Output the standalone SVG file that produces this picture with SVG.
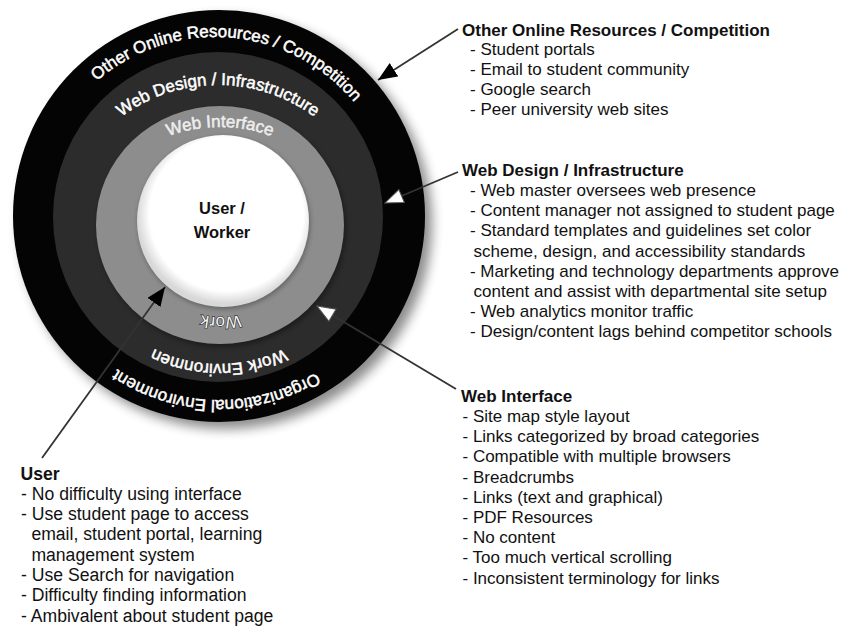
<svg xmlns="http://www.w3.org/2000/svg" width="843" height="627" viewBox="0 0 843 627">
<style>
.rl{font-family:"Liberation Sans",Arial,sans-serif;font-size:17px;fill:#ffffff;stroke:#ffffff;stroke-width:0.5}
.t{font-family:"Liberation Sans",Arial,sans-serif;font-size:17px;fill:#111111}
.u{font-size:17.6px}
.h{font-weight:bold}
.ctr{font-family:"Liberation Sans",Arial,sans-serif;font-size:16.5px;font-weight:bold;fill:#111111;text-anchor:middle}
.c{fill:none;stroke:#333333;stroke-width:1.8}
</style>
<defs>
<filter id="sh" x="-20%" y="-20%" width="140%" height="140%"><feGaussianBlur stdDeviation="6"/></filter>
<filter id="sh2" x="-20%" y="-20%" width="140%" height="140%"><feGaussianBlur stdDeviation="2.5"/></filter>
<radialGradient id="wg" cx="52%" cy="46%" r="52%">
<stop offset="0.86" stop-color="#ffffff"/>
<stop offset="1" stop-color="#d8d8d8"/>
</radialGradient>
<marker id="ab" markerUnits="userSpaceOnUse" markerWidth="22" markerHeight="18" refX="19" refY="8" orient="auto"><path d="M0,0 L19,8 L0,16 Z" fill="#000000"/></marker>
<marker id="aw" markerUnits="userSpaceOnUse" markerWidth="22" markerHeight="18" refX="19" refY="8" orient="auto"><path d="M1,1 L19,8 L1,15 Z" fill="#ffffff" stroke="#555555" stroke-width="1"/></marker>
<path id="pOuter" d="M34,218 A181,181 0 0 1 396,218"/>
<path id="pDesign" d="M56,247 A162,162 0 0 1 380,247"/>
<path id="pIface" d="M70,277 A150,150 0 0 1 370,277"/>
<path id="pWork" d="M317,221 A96,96 0 0 1 125,221"/>
<path id="pWorkEnv" d="M367,216 A148,148 0 0 1 71,216"/>
<path id="pOrg" d="M403,216 A184,184 0 0 1 35,216"/>
</defs>
<rect width="843" height="627" fill="#ffffff"/>

<g id="ring-organizational">
<circle cx="226" cy="223" r="206" fill="#000000" opacity="0.45" filter="url(#sh)"/>
<circle cx="219" cy="216" r="206" fill="#040404"/>
<text class="rl" font-size="17.5"><textPath href="#pOuter" startOffset="299" text-anchor="middle">Other Online Resources / Competition</textPath></text>
<text class="rl"><textPath href="#pOrg" startOffset="292" text-anchor="middle">Organizational Environment</textPath></text>
</g>

<g id="ring-work-environment">
<circle cx="218" cy="217" r="165" fill="#2c2c2c"/>
<text class="rl" font-size="17.2"><textPath href="#pDesign" startOffset="50%" text-anchor="middle">Web Design / Infrastructure</textPath></text>
<text class="rl" font-size="16.7"><textPath href="#pWorkEnv" startOffset="50%" text-anchor="middle">Work Environmen</textPath></text>
</g>

<g id="ring-work">
<ellipse cx="222" cy="228" rx="124" ry="119" fill="#000000" opacity="0.35" filter="url(#sh2)"/>
<ellipse cx="220" cy="225" rx="124" ry="119" fill="#8d8d8d"/>
<text class="rl" style="fill:#eeeeee;stroke:#eeeeee"><textPath href="#pIface" startOffset="50%" text-anchor="middle">Web Interface</textPath></text>
<text class="rl" font-size="17.5" style="fill:#f4f4f4;stroke:#2a2a2a;stroke-width:1.2;paint-order:stroke"><textPath href="#pWork" startOffset="50%" text-anchor="middle">Work</textPath></text>
</g>

<g id="core-user-worker">
<circle cx="224" cy="223" r="86" fill="#000000" opacity="0.3" filter="url(#sh2)"/>
<circle cx="223" cy="221" r="86" fill="url(#wg)"/>
<text class="ctr" x="222" y="214">User /</text>
<text class="ctr" x="222" y="238">Worker</text>
</g>

<g id="connectors">
<line class="c" x1="458" y1="29" x2="378" y2="80" marker-end="url(#ab)"/>
<line class="c" x1="458" y1="172" x2="385" y2="203" marker-end="url(#aw)"/>
<line class="c" x1="456" y1="389" x2="317" y2="306" marker-end="url(#aw)"/>
<line class="c" x1="42" y1="458" x2="165" y2="287" marker-end="url(#ab)"/>
</g>

<g id="label-other-online">
<text class="t h" x="462" y="35.5">Other Online Resources / Competition</text>
<text class="t" x="470" y="55">- Student portals</text>
<text class="t" x="470" y="75">- Email to student community</text>
<text class="t" x="470" y="95">- Google search</text>
<text class="t" x="470" y="115">- Peer university web sites</text>
</g>

<g id="label-web-design">
<text class="t h" x="462" y="176">Web Design / Infrastructure</text>
<text class="t" x="470" y="196">- Web master oversees web presence</text>
<text class="t" x="470" y="216.2">- Content manager not assigned to student page</text>
<text class="t" x="470" y="236.4">- Standard templates and guidelines set color</text>
<text class="t" x="473.5" y="256.6">scheme, design, and accessibility standards</text>
<text class="t" x="470" y="276.8" textLength="369">- Marketing and technology departments approve</text>
<text class="t" x="473.5" y="297">content and assist with departmental site setup</text>
<text class="t" x="470" y="317.2">- Web analytics monitor traffic</text>
<text class="t" x="470" y="337.4">- Design/content lags behind competitor schools</text>
</g>

<g id="label-web-interface">
<text class="t h" x="461" y="402">Web Interface</text>
<text class="t" x="462.5" y="422">- Site map style layout</text>
<text class="t" x="462.5" y="442.2">- Links categorized by broad categories</text>
<text class="t" x="462.5" y="462.4">- Compatible with multiple browsers</text>
<text class="t" x="462.5" y="482.6">- Breadcrumbs</text>
<text class="t" x="462.5" y="502.8">- Links (text and graphical)</text>
<text class="t" x="462.5" y="523">- PDF Resources</text>
<text class="t" x="462.5" y="543.2">- No content</text>
<text class="t" x="462.5" y="563.4">- Too much vertical scrolling</text>
<text class="t" x="462.5" y="583.6">- Inconsistent terminology for links</text>
</g>

<g id="label-user">
<text class="t h u" x="20.5" y="479.5">User</text>
<text class="t u" x="21" y="499.5">- No difficulty using interface</text>
<text class="t u" x="21" y="519.9">- Use student page to access</text>
<text class="t u" x="31.4" y="540.2">email, student portal, learning</text>
<text class="t u" x="31.4" y="560.6">management system</text>
<text class="t u" x="21" y="580.9">- Use Search for navigation</text>
<text class="t u" x="21" y="601.3">- Difficulty finding information</text>
<text class="t u" x="21" y="621.6">- Ambivalent about student page</text>
</g>
</svg>
